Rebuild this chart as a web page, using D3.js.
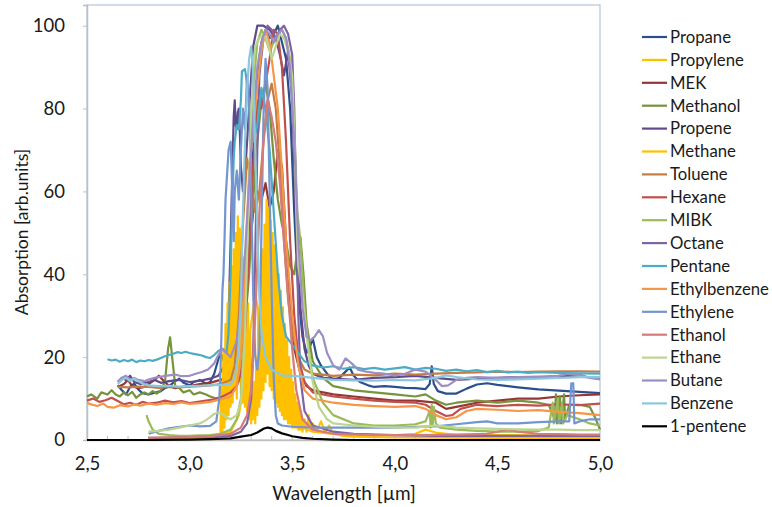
<!DOCTYPE html>
<html>
<head>
<meta charset="utf-8">
<script src="https://cdn.jsdelivr.net/npm/d3@7"></script>
<style>
  html, body { margin: 0; padding: 0; background: #fff; }
  svg { display: block; font-family: Lato, "Open Sans", sans-serif; }
</style>
</head>
<body>
<svg id="chart" width="772" height="507"></svg>
<script>
// Absorption spectra of hydrocarbons and solvents, 2.5–5.0 µm
const seriesNames = ["Propane","Propylene","MEK","Methanol","Propene","Methane","Toluene","Hexane","MIBK",
  "Octane","Pentane","Ethylbenzene","Ethylene","Ethanol","Ethane","Butane","Benzene","1-pentene"];
const seriesColors = ["#2b4f8c","#ffc000","#963634","#77933c","#5f4a8b","#ffc000","#c27d45","#c0504d","#9bbb59",
  "#8064a2","#4bacc6","#f79646","#7395d0","#d47c7a","#bcd590","#9d8fc5","#8cc8dc","#000000"];

const xTicks = [2.5, 3.0, 3.5, 4.0, 4.5, 5.0];
const yTicks = [0, 20, 40, 60, 80, 100];

// [wavelength µm, absorption]
const propane = [[2.65,13.2],[2.67,12],[2.69,11],[2.71,12.8],[2.73,13.6],[2.75,12.2],[2.77,11.3],[2.8,11],[2.83,11.4],[2.86,11.8],[2.88,12.5],[2.9,13],[2.93,14.2],[2.95,14.8],[2.97,13.8],[3.0,13.2],[3.02,14],[3.05,14.5],[3.08,13.6],[3.1,14],[3.12,16],[3.14,19.5],[3.15,21],[3.16,20],[3.18,17],[3.2,16],[3.23,16.5],[3.25,19],[3.27,28],[3.29,45],[3.31,70],[3.33,88],[3.35,96],[3.37,99],[3.39,97],[3.41,98],[3.43,100],[3.45,96],[3.47,92],[3.49,80],[3.51,55],[3.53,35],[3.55,25],[3.57,21],[3.59,23],[3.6,24.5],[3.62,20],[3.64,18],[3.67,16],[3.7,14.5],[3.73,15],[3.76,16.5],[3.78,17.5],[3.8,15.5],[3.83,14],[3.87,13.2],[3.9,12.8],[3.95,13],[4.0,12.8],[4.05,12.6],[4.1,12.5],[4.15,12.3],[4.17,13.5],[4.18,17.8],[4.19,13.5],[4.21,11.8],[4.25,11.2],[4.3,11.2],[4.35,12.4],[4.4,13.4],[4.45,13.7],[4.5,13.3],[4.6,12.7],[4.7,12.2],[4.8,11.9],[4.9,11.6],[5.0,11.3]];
const propylene = [[2.8,0.4],[2.9,0.5],[3.0,0.6],[3.1,0.8],[3.15,1],[3.2,2],[3.24,6],[3.27,15],[3.3,28],[3.32,35],[3.34,30],[3.36,42],[3.38,36],[3.4,45],[3.42,38],[3.44,25],[3.47,12],[3.5,6],[3.55,3],[3.6,2],[3.7,1.5],[3.8,1.3],[3.9,1.2],[4.0,1.2],[4.1,1.5],[4.15,2.5],[4.2,1.8],[4.3,1.2],[4.5,1.2],[4.7,1.1],[4.9,1.1],[5.0,1.1]];
const mek = [[2.65,12.8],[2.68,13.5],[2.7,14.5],[2.72,13],[2.75,12.5],[2.78,12.8],[2.8,13.5],[2.83,14.5],[2.85,15.5],[2.87,14.5],[2.9,13],[2.93,12.5],[2.96,12.8],[3.0,13],[3.05,13.5],[3.1,13.8],[3.15,14.5],[3.18,15],[3.2,15.5],[3.23,18],[3.25,22],[3.27,32],[3.29,45],[3.31,55],[3.33,60],[3.35,58],[3.37,62],[3.39,56],[3.41,60],[3.43,70],[3.45,66],[3.47,48],[3.49,32],[3.51,22],[3.54,16],[3.57,13],[3.6,12],[3.7,11],[3.8,10.5],[3.9,10],[4.0,9.5],[4.1,9.5],[4.2,9],[4.25,7.5],[4.3,8],[4.4,9],[4.5,9.5],[4.6,10],[4.7,10],[4.8,10.5],[4.9,10.8],[5.0,11]];
const methanol = [[2.5,10.5],[2.52,11],[2.55,10],[2.57,11.5],[2.6,11],[2.62,12],[2.64,11],[2.66,10.5],[2.68,11.5],[2.7,10.8],[2.72,11.6],[2.74,10.2],[2.76,11],[2.78,11.5],[2.8,11],[2.82,11.8],[2.84,11.2],[2.86,12],[2.88,14],[2.895,22],[2.905,24.8],[2.915,20],[2.93,13],[2.95,12.5],[2.97,11.5],[3.0,12],[3.02,11],[3.05,11.5],[3.08,11],[3.1,10.5],[3.13,10],[3.16,10.5],[3.2,11.5],[3.23,14],[3.26,22],[3.29,40],[3.31,58],[3.33,72],[3.35,82],[3.37,86],[3.39,80],[3.41,68],[3.43,58],[3.45,52],[3.47,48],[3.49,42],[3.51,40],[3.525,46],[3.54,49],[3.555,40],[3.57,28],[3.6,19],[3.65,15],[3.7,13],[3.8,12],[3.9,11.5],[4.0,11],[4.1,10.5],[4.15,11],[4.2,9.5],[4.25,8.5],[4.3,9],[4.4,9.5],[4.5,9],[4.6,9.5],[4.7,9],[4.75,8.5],[4.78,5],[4.785,11],[4.79,4],[4.805,10.5],[4.81,4],[4.825,11],[4.83,5],[4.85,8.5],[4.9,8.5],[4.95,8],[4.98,5],[5.0,2.5]];
const propene = [[2.65,14],[2.67,15],[2.69,14.5],[2.71,15.5],[2.73,14],[2.76,13.5],[2.8,14],[2.83,14.5],[2.86,13.8],[2.9,14.2],[2.95,14.5],[3.0,14],[3.05,14.3],[3.1,14.8],[3.14,15.5],[3.17,18],[3.19,30],[3.2,48],[3.21,68],[3.215,78],[3.22,82],[3.225,76],[3.23,75],[3.235,79],[3.24,80],[3.245,74],[3.25,66],[3.26,60],[3.27,64],[3.29,80],[3.31,95],[3.33,100],[3.36,100],[3.39,99],[3.42,97],[3.44,93],[3.46,88],[3.48,94],[3.5,82],[3.52,52],[3.54,32],[3.56,22],[3.58,18],[3.6,16],[3.65,15],[3.7,14.8],[3.8,14.5],[3.9,15],[4.0,15.2],[4.1,15.5],[4.2,15],[4.3,14.5],[4.4,14.8],[4.5,15],[4.6,15.2],[4.7,15],[4.8,15.5],[4.9,15.3],[5.0,15]];
const methane = [[2.8,0.3],[3.0,0.3],[3.1,0.4],[3.14,0.8],[3.15,1.5],
  [3.155,14],[3.16,2],[3.165,22],[3.17,3],[3.175,28],[3.18,5],[3.185,33],[3.19,6],[3.195,38],[3.2,8],
  [3.205,42],[3.21,9],[3.215,46],[3.22,12],[3.225,50],[3.23,10],[3.235,54],[3.24,14],[3.245,51],[3.25,11],
  [3.255,47],[3.26,9],[3.265,44],[3.27,8],[3.275,38],[3.28,7],[3.285,33],[3.29,5],[3.295,26],[3.3,4],
  [3.305,18],[3.31,5],[3.315,14],[3.32,4],[3.325,20],[3.33,6],[3.335,32],[3.34,8],[3.345,40],[3.35,10],
  [3.355,46],[3.36,12],[3.365,52],[3.37,14],[3.375,58],[3.38,16],[3.385,56],[3.39,13],[3.395,53],[3.4,12],
  [3.405,50],[3.41,10],[3.415,47],[3.42,9],[3.425,43],[3.43,8],[3.435,40],[3.44,7],[3.445,36],[3.45,6],
  [3.455,32],[3.46,5],[3.465,28],[3.47,5],[3.475,24],[3.48,4],[3.485,20],[3.49,4],[3.495,17],[3.5,3],
  [3.505,14],[3.51,3],[3.515,11],[3.52,3],[3.525,9],[3.53,2.5],[3.535,8],[3.54,2.5],[3.545,6],[3.55,2],
  [3.56,5],[3.57,2],[3.58,6],[3.59,2.5],[3.6,4],[3.62,2],[3.64,4.5],[3.66,2],[3.68,3.5],[3.7,1.5],[3.75,1],[3.8,0.8],[4.0,0.6],[4.5,0.5],[5.0,0.5]];
const toluene = [[2.65,12.8],[2.7,12.7],[2.75,12.9],[2.8,12.8],[2.85,12.6],[2.9,12.8],[2.95,12.7],[3.0,12.9],[3.05,13],[3.1,13.2],[3.15,13.5],[3.2,14.5],[3.22,18],[3.24,30],[3.26,52],[3.28,68],[3.3,62],[3.32,55],[3.34,60],[3.36,72],[3.38,82],[3.4,86],[3.42,80],[3.44,66],[3.46,48],[3.48,34],[3.5,26],[3.53,20],[3.56,17],[3.6,16],[3.7,15.5],[3.8,15.8],[3.9,15.6],[4.0,16],[4.1,15.8],[4.2,16],[4.3,16.2],[4.4,16.3],[4.5,16.5],[4.6,16.4],[4.7,16.5],[4.8,16.6],[4.9,16.6],[5.0,16.5]];
const hexane = [[2.5,9.5],[2.53,10],[2.56,9.2],[2.59,9.6],[2.62,10.2],[2.65,9.4],[2.68,8.6],[2.71,9],[2.74,8.5],[2.77,9.2],[2.8,8.8],[2.84,9],[2.88,9.5],[2.92,9.1],[2.96,9.4],[3.0,8.9],[3.04,9.2],[3.08,9.5],[3.12,9.8],[3.16,10.5],[3.2,11.5],[3.23,13],[3.25,16],[3.27,26],[3.29,45],[3.31,66],[3.33,82],[3.35,80],[3.37,86],[3.39,92],[3.41,99],[3.43,98],[3.45,90],[3.47,72],[3.49,48],[3.51,30],[3.53,20],[3.56,14],[3.6,11.5],[3.7,10.5],[3.8,10],[3.9,9.5],[4.0,9.2],[4.1,9],[4.15,8.5],[4.2,7],[4.25,5.8],[4.28,6],[4.32,7.5],[4.4,8.5],[4.5,8.2],[4.6,8.5],[4.7,8.3],[4.8,8.6],[4.9,8.4],[5.0,8.8]];
const mibk = [[2.79,6],[2.8,4.5],[2.82,2.5],[2.85,1.5],[2.9,1.2],[2.95,1],[3.0,1],[3.05,1.1],[3.1,1.2],[3.15,1.5],[3.2,2.5],[3.23,5],[3.25,10],[3.27,30],[3.29,62],[3.31,85],[3.33,96],[3.35,99],[3.37,97],[3.39,94],[3.41,96],[3.43,98],[3.45,99],[3.47,97],[3.49,92],[3.51,75],[3.525,55],[3.54,48],[3.56,32],[3.58,22],[3.6,15],[3.65,9],[3.7,6],[3.8,4],[3.9,3.5],[4.0,3.5],[4.1,3.8],[4.15,4.5],[4.17,7],[4.175,3],[4.18,8.5],[4.185,3.5],[4.19,8],[4.2,4],[4.22,3],[4.3,2.5],[4.4,2.2],[4.5,2],[4.6,2],[4.7,2.2],[4.75,3],[4.77,9],[4.775,4],[4.795,10],[4.8,4],[4.815,9],[4.82,4],[4.84,6],[4.9,5],[4.95,4],[5.0,3.5]];
const octane = [[2.8,0.5],[2.9,0.6],[3.0,0.7],[3.1,0.8],[3.2,1],[3.25,2],[3.28,4],[3.3,10],[3.31,22],[3.32,45],[3.33,70],[3.34,88],[3.36,97],[3.38,100],[3.4,99],[3.42,97],[3.44,99],[3.46,100],[3.48,98],[3.5,93],[3.51,80],[3.52,55],[3.53,30],[3.54,15],[3.56,7],[3.6,3.5],[3.7,2],[3.8,1.5],[4.0,1.2],[4.2,1],[4.4,1],[4.6,1],[4.8,1],[5.0,1]];
const pentane = [[2.6,19.5],[2.62,19.2],[2.64,19.4],[2.66,18.9],[2.68,19.3],[2.7,19],[2.72,19.4],[2.74,18.8],[2.76,19.2],[2.78,19],[2.8,19.3],[2.82,19.1],[2.84,19.4],[2.86,19.8],[2.88,20.2],[2.9,20.5],[2.92,20.8],[2.94,21.2],[2.96,21],[2.98,21.3],[3.0,21],[3.02,20.8],[3.04,20.6],[3.06,20.4],[3.08,20],[3.1,19.8],[3.12,20.5],[3.14,21.5],[3.16,22],[3.18,21],[3.19,26],[3.2,40],[3.205,52],[3.21,60],[3.215,68],[3.22,72],[3.23,76],[3.24,75],[3.25,82],[3.255,89],[3.27,89.5],[3.28,86],[3.29,80],[3.31,72],[3.33,76],[3.35,85],[3.37,80],[3.39,70],[3.41,55],[3.43,40],[3.45,30],[3.47,25],[3.5,23],[3.53,21],[3.56,19],[3.6,18],[3.65,17.5],[3.7,17.8],[3.75,17.2],[3.8,17.6],[3.85,17.1],[3.9,17.4],[3.95,17],[4.0,17.3],[4.05,17.6],[4.1,17],[4.15,17.4],[4.2,17.2],[4.25,16.7],[4.3,17],[4.35,16.6],[4.4,16.9],[4.45,16.4],[4.5,16.7],[4.55,16.3],[4.6,16.5],[4.65,16.2],[4.7,16.4],[4.8,16.2],[4.9,16.1],[5.0,16]];
const ethylbenzene = [[2.5,9],[2.52,8.6],[2.55,8.2],[2.58,8.8],[2.6,8],[2.63,7.8],[2.66,8.4],[2.7,8.1],[2.73,8.6],[2.76,8.3],[2.8,8.8],[2.84,8.5],[2.88,8.9],[2.92,8.7],[2.96,9.1],[3.0,8.7],[3.05,8.9],[3.1,9.2],[3.15,9.8],[3.2,10.5],[3.23,13],[3.25,20],[3.27,40],[3.29,65],[3.31,75],[3.33,85],[3.35,94],[3.37,99],[3.39,96],[3.41,88],[3.43,80],[3.45,65],[3.47,48],[3.5,30],[3.53,18],[3.56,12],[3.6,10],[3.7,9],[3.8,8.5],[3.9,8.2],[4.0,8],[4.1,8.2],[4.15,7.5],[4.2,6],[4.25,5],[4.3,5.5],[4.35,7],[4.4,7.5],[4.5,7.3],[4.6,7],[4.7,7.2],[4.8,6.8],[4.9,6.5],[5.0,6]];
const ethylene = [[2.8,1.5],[2.85,2.2],[2.9,2.8],[2.95,3.2],[3.0,3.5],[3.05,3.3],[3.1,3.4],[3.13,4.5],[3.145,10],[3.15,16],[3.155,25],[3.16,36],[3.165,40],[3.17,48],[3.175,58],[3.18,62],[3.185,66],[3.19,70],[3.2,72],[3.205,65],[3.21,55],[3.215,48],[3.22,60],[3.23,65],[3.24,58],[3.25,70],[3.26,80],[3.27,75],[3.28,88],[3.29,82],[3.3,60],[3.31,35],[3.32,20],[3.33,17],[3.34,22],[3.35,50],[3.36,78],[3.37,92],[3.38,85],[3.39,60],[3.4,35],[3.41,15],[3.42,6],[3.43,4],[3.45,3.5],[3.5,3.2],[3.6,3],[3.7,3],[3.8,3],[3.9,3],[4.0,3],[4.1,3.2],[4.2,3.3],[4.3,3.8],[4.4,4.3],[4.45,4.5],[4.5,4],[4.6,4],[4.7,4.3],[4.8,4.5],[4.85,4.5],[4.86,13.7],[4.87,13.7],[4.875,4],[4.9,4.5],[4.95,5],[5.0,5]];
const ethanol = [[2.8,0.5],[2.9,0.6],[3.0,0.7],[3.1,0.9],[3.2,1.5],[3.25,3],[3.28,6],[3.3,12],[3.32,30],[3.34,55],[3.36,72],[3.38,82],[3.4,78],[3.42,72],[3.44,62],[3.46,48],[3.48,35],[3.5,22],[3.52,12],[3.55,5],[3.6,2.5],[3.7,1.5],[3.9,1.2],[4.1,1.2],[4.3,1.3],[4.45,1.5],[4.5,2],[4.55,2.5],[4.6,2],[4.7,1.5],[4.8,1.4],[4.9,1.3],[5.0,1.3]];
const ethane = [[2.8,2],[2.85,2.2],[2.9,2.5],[2.95,3],[3.0,3.5],[3.05,4],[3.08,4.8],[3.1,5.5],[3.12,6.3],[3.14,6.7],[3.16,6.2],[3.18,5.5],[3.2,5],[3.23,6],[3.25,9],[3.27,25],[3.28,45],[3.29,62],[3.3,78],[3.31,90],[3.32,95],[3.34,97],[3.36,98],[3.38,96],[3.4,92],[3.42,95],[3.44,98],[3.46,97],[3.48,94],[3.5,88],[3.51,75],[3.52,55],[3.53,42],[3.55,35],[3.57,25],[3.6,14],[3.63,8],[3.67,5],[3.7,4],[3.8,3.5],[3.9,3.2],[4.0,3],[4.1,3],[4.2,3.5],[4.3,3],[4.4,2.8],[4.5,2.7],[4.6,2.6],[4.7,2.5],[4.8,2.5],[4.9,2.4],[5.0,2.4]];
const butane = [[2.65,14],[2.67,15],[2.69,15.5],[2.71,14.5],[2.73,15],[2.75,14.5],[2.78,14.2],[2.8,14.6],[2.83,15],[2.86,15.3],[2.9,15.6],[2.93,15.8],[2.96,15.4],[3.0,15.5],[3.03,16],[3.06,16.4],[3.09,17],[3.12,18.5],[3.14,20.5],[3.16,22],[3.18,21],[3.2,20],[3.23,24],[3.25,32],[3.27,45],[3.29,62],[3.31,78],[3.33,90],[3.35,96],[3.37,99],[3.39,98],[3.41,96],[3.43,98],[3.45,99],[3.47,97],[3.49,90],[3.51,72],[3.53,48],[3.55,32],[3.57,25],[3.59,24],[3.61,25],[3.63,26.5],[3.65,25],[3.67,21],[3.7,18],[3.73,17],[3.76,19.7],[3.79,18.5],[3.82,17],[3.86,16.5],[3.9,16.2],[3.95,16],[4.0,15.5],[4.05,16],[4.1,17],[4.15,16.5],[4.2,14.5],[4.23,13],[4.26,13.2],[4.3,14.5],[4.35,15],[4.4,15.2],[4.5,15],[4.6,15.2],[4.7,15.3],[4.8,15.5],[4.85,16],[4.9,15.8],[4.95,15],[5.0,14.6]];
const benzene = [[2.65,13.5],[2.67,14.5],[2.69,15],[2.71,14.2],[2.73,14.8],[2.75,14.2],[2.77,13.6],[2.8,13.2],[2.85,13],[2.9,13.1],[2.95,12.9],[3.0,13],[3.05,13.1],[3.1,13.2],[3.15,13.3],[3.2,13.5],[3.22,15],[3.24,22],[3.25,35],[3.26,55],[3.27,72],[3.28,84],[3.29,92],[3.3,95],[3.31,88],[3.32,70],[3.33,50],[3.34,35],[3.35,26],[3.37,20],[3.4,17],[3.45,15.6],[3.5,15.5],[3.55,15.3],[3.6,15],[3.7,14.5],[3.8,14.4],[3.9,14.3],[4.0,14.5],[4.1,14.4],[4.2,15],[4.25,15.6],[4.3,15.2],[4.4,14.6],[4.5,14.5],[4.6,14.6],[4.7,14.8],[4.8,15],[4.9,15.2],[5.0,15.2]];
const pentene1 = [[2.5,0],[2.8,0],[3.0,0.1],[3.1,0.2],[3.2,0.4],[3.25,0.8],[3.3,1.2],[3.33,1.8],[3.36,2.7],[3.38,3],[3.4,2.8],[3.42,2.2],[3.45,1.6],[3.48,1.2],[3.5,0.9],[3.55,0.5],[3.6,0.3],[3.7,0.1],[3.8,0],[5.0,0]];

const seriesData = [propane, propylene, mek, methanol, propene, methane, toluene, hexane, mibk,
  octane, pentane, ethylbenzene, ethylene, ethanol, ethane, butane, benzene, pentene1];

const svg = d3.select("#chart");
const plot = { left: 87, right: 600, top: 5, bottom: 440 };

const x = d3.scaleLinear().domain([2.5, 5.0]).range([plot.left, plot.right]);
const y = d3.scaleLinear().domain([0, 105]).range([plot.bottom, plot.top]);

const comma = d3.formatLocale({ decimal: ",", thousands: ".", grouping: [3], currency: ["", ""] });

// plot area frame
svg.append("rect")
  .attr("x", plot.left).attr("y", plot.top)
  .attr("width", plot.right - plot.left).attr("height", plot.bottom - plot.top)
  .attr("fill", "none").attr("stroke", "#b3c4da").attr("stroke-width", 1.2);

// y axis
const yAxis = svg.append("g").attr("transform", `translate(${plot.left},0)`)
  .call(d3.axisLeft(y).tickValues(yTicks).tickSize(4).tickPadding(18).tickFormat(d3.format("d")));
yAxis.select(".domain").attr("stroke", "#bfbfbf").attr("stroke-width", 1.5);
yAxis.selectAll(".tick line").attr("stroke", "#bfbfbf");
yAxis.selectAll(".tick text").attr("font-size", 18.5).attr("fill", "#1a1a1a").attr("font-family", "Lato, sans-serif");

// x axis with minor ticks
const xMinor = d3.range(26, 50).map(v => v / 10);
svg.append("g").attr("transform", `translate(0,${plot.bottom})`)
  .selectAll("line").data(xMinor).join("line")
  .attr("x1", d => x(d)).attr("x2", d => x(d))
  .attr("y1", 0).attr("y2", -4)
  .attr("stroke", "#bfbfbf").attr("stroke-width", 1);

const xAxis = svg.append("g").attr("transform", `translate(0,${plot.bottom})`)
  .call(d3.axisBottom(x).tickValues(xTicks).tickSize(0).tickPadding(17).tickFormat(comma.format(".1f")));
xAxis.select(".domain").attr("stroke", "#bfbfbf").attr("stroke-width", 1.5);
xAxis.selectAll(".tick text").attr("font-size", 18.5).attr("fill", "#1a1a1a").attr("font-family", "Lato, sans-serif");

// spectra
const line = d3.line().x(d => x(d[0])).y(d => y(d[1]));
svg.append("g").selectAll("path").data(seriesData).join("path")
  .attr("d", line)
  .attr("fill", "none")
  .attr("stroke", (d, i) => seriesColors[i])
  .attr("stroke-width", 2.2)
  .attr("stroke-linejoin", "round");

// axis titles
svg.append("text")
  .attr("transform", `translate(28,232) rotate(-90)`)
  .attr("text-anchor", "middle")
  .attr("font-size", 17.5).attr("fill", "#1a1a1a")
  .text("Absorption [arb.units]");

svg.append("text")
  .attr("x", 344).attr("y", 500)
  .attr("text-anchor", "middle")
  .attr("font-size", 19).attr("fill", "#1a1a1a")
  .text("Wavelength [µm]");

// legend
const legend = svg.append("g").attr("transform", "translate(642,37)");
const rows = legend.selectAll("g").data(seriesNames).join("g")
  .attr("transform", (d, i) => `translate(0,${i * 22.9})`);
rows.append("line").attr("x1", 0).attr("x2", 25).attr("y1", 0).attr("y2", 0)
  .attr("stroke", (d, i) => seriesColors[i]).attr("stroke-width", 2.2);
const labels = rows.append("text").attr("x", 28).attr("y", 0).attr("dy", "0.35em")
  .attr("font-size", 18.5).attr("fill", "#1a1a1a")
  .text(d => d);

// keep the longest label inside the 772px frame
const widest = d3.max(labels.nodes(), n => n.getComputedTextLength());
const room = 772 - 670 - 3;
if (widest > room) labels.attr("font-size", 18.5 * room / widest);
</script>
</body>
</html>
